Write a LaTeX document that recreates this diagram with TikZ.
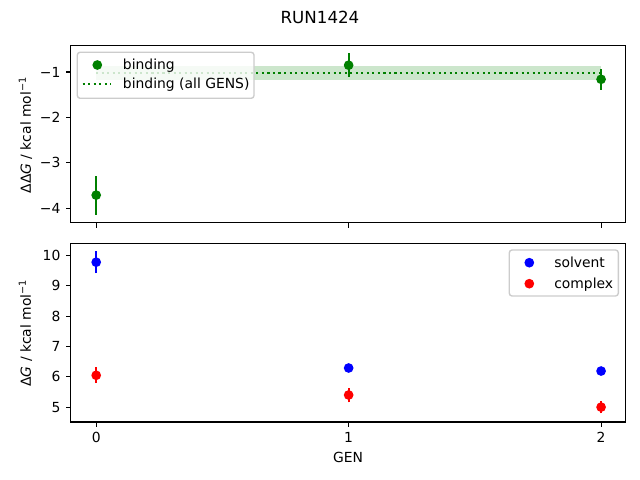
\documentclass[tikz,border=0pt]{standalone}
\usepackage{fontspec}
\setmainfont{DejaVu Sans}
\definecolor{mplgreen}{HTML}{008000}
\definecolor{mplblue}{HTML}{0000FF}
\definecolor{mplred}{HTML}{FF0000}

\begin{document}
\begin{tikzpicture}[x=0.01in, y=-0.01in,
		every node/.style={font=\fontsize{10bp}{12bp}\selectfont, inner sep=0pt},
		axframe/.style={line width=0.8bp},
		tck/.style={line width=0.8bp},
		ebar/.style={line width=1.5bp},
		allgens/.style={mplgreen, line width=1.5bp, dash pattern=on 1.5bp off 2.475bp},
		lgdbox/.style={draw=black!20, line width=1bp, fill=white, fill opacity=0.8, rounded corners=2bp}]
	\useasboundingbox (0,0) rectangle (640,480);
	\node (title) at (320,17) {\fontsize{12bp}{14bp}\selectfont RUN1424};

	% binding
	\begin{scope}[shift={(96.2,26.6)}, x=2.523in, y=0.454in]
		\fill[mplgreen, opacity=0.2] (0,-0.86) rectangle (2,-1.18);
		\draw[allgens] (0,-1.02) -- (2,-1.02);
		\foreach \g/\v/\e in {0/-3.71/0.43, 1/-0.85/0.26, 2/-1.16/0.23} {
			\draw[ebar, mplgreen] (\g,\v-\e) -- (\g,\v+\e);
			\fill[mplgreen] (\g,\v) circle (3.5bp);
		}
		\draw[axframe] (-0.101,-4.32) rectangle (2.097,-0.41);
		\foreach \g in {0,1,2}
			\draw[tck] (\g,-4.32) -- ++(0,-3.5bp);
		\foreach \v/\t [count=\k] in {-1/−1, -2/−2, -3/−3, -4/−4}
			\draw[tck] (-0.101,\v) -- ++(-3.5bp,0) node[anchor=east, xshift=-3.5bp] (ytop\k) {\t};
	\end{scope}
	\draw[lgdbox] (77.3,52.3) rectangle (254,98.3);
	\fill[mplgreen] (97.3,65) circle (3.5bp);
	\node[anchor=base west] (lbind) at (122.7,69.3) {binding};
	\draw[allgens] (82.7,84) -- (110.7,84);
	\node[anchor=base west] (lall) at (122.7,88.5) {binding (all GENS)};
	\node[rotate=90] (ylabtop) at (25.5,135) {ΔΔ\textit{G} / kcal mol\textsuperscript{−1}};

	% solvent / complex
	\begin{scope}[shift={(96.2,558.7)}, x=2.523in, y=0.303in]
		\foreach \g/\v/\e in {0/9.78/0.36, 1/6.29/0.05, 2/6.19/0.05} {
			\draw[ebar, mplblue] (\g,\v-\e) -- (\g,\v+\e);
			\fill[mplblue] (\g,\v) circle (3.5bp);
		}
		\foreach \g/\v/\e in {0/6.05/0.26, 1/5.40/0.24, 2/5.00/0.21} {
			\draw[ebar, mplred] (\g,\v-\e) -- (\g,\v+\e);
			\fill[mplred] (\g,\v) circle (3.5bp);
		}
		\draw[axframe] (-0.101,4.51) rectangle (2.097,10.41);
		\foreach \g in {0,1,2}
			\draw[tck] (\g,4.51) -- ++(0,-3.5bp) node[anchor=north, yshift=-3.5bp] (xtk\g) {\g};
		\foreach \v in {5,...,10}
			\draw[tck] (-0.101,\v) -- ++(-3.5bp,0) node[anchor=east, xshift=-3.5bp] (ybot\v) {\v};
	\end{scope}
	\draw[lgdbox] (509.3,250) rectangle (618.3,296);
	\fill[mplblue] (529.3,262.7) circle (3.5bp);
	\node[anchor=base west] (lsolv) at (554,267.3) {solvent};
	\fill[mplred] (529.3,283.7) circle (3.5bp);
	\node[anchor=base west] (lcplx) at (554,288.3) {complex};
	\node[rotate=90] (ylabbot) at (25.5,333) {Δ\textit{G} / kcal mol\textsuperscript{−1}};
	\node (gen) at (348,457) {GEN};
%	\node at (348,470) {RUN};
\end{tikzpicture}
\end{document}
